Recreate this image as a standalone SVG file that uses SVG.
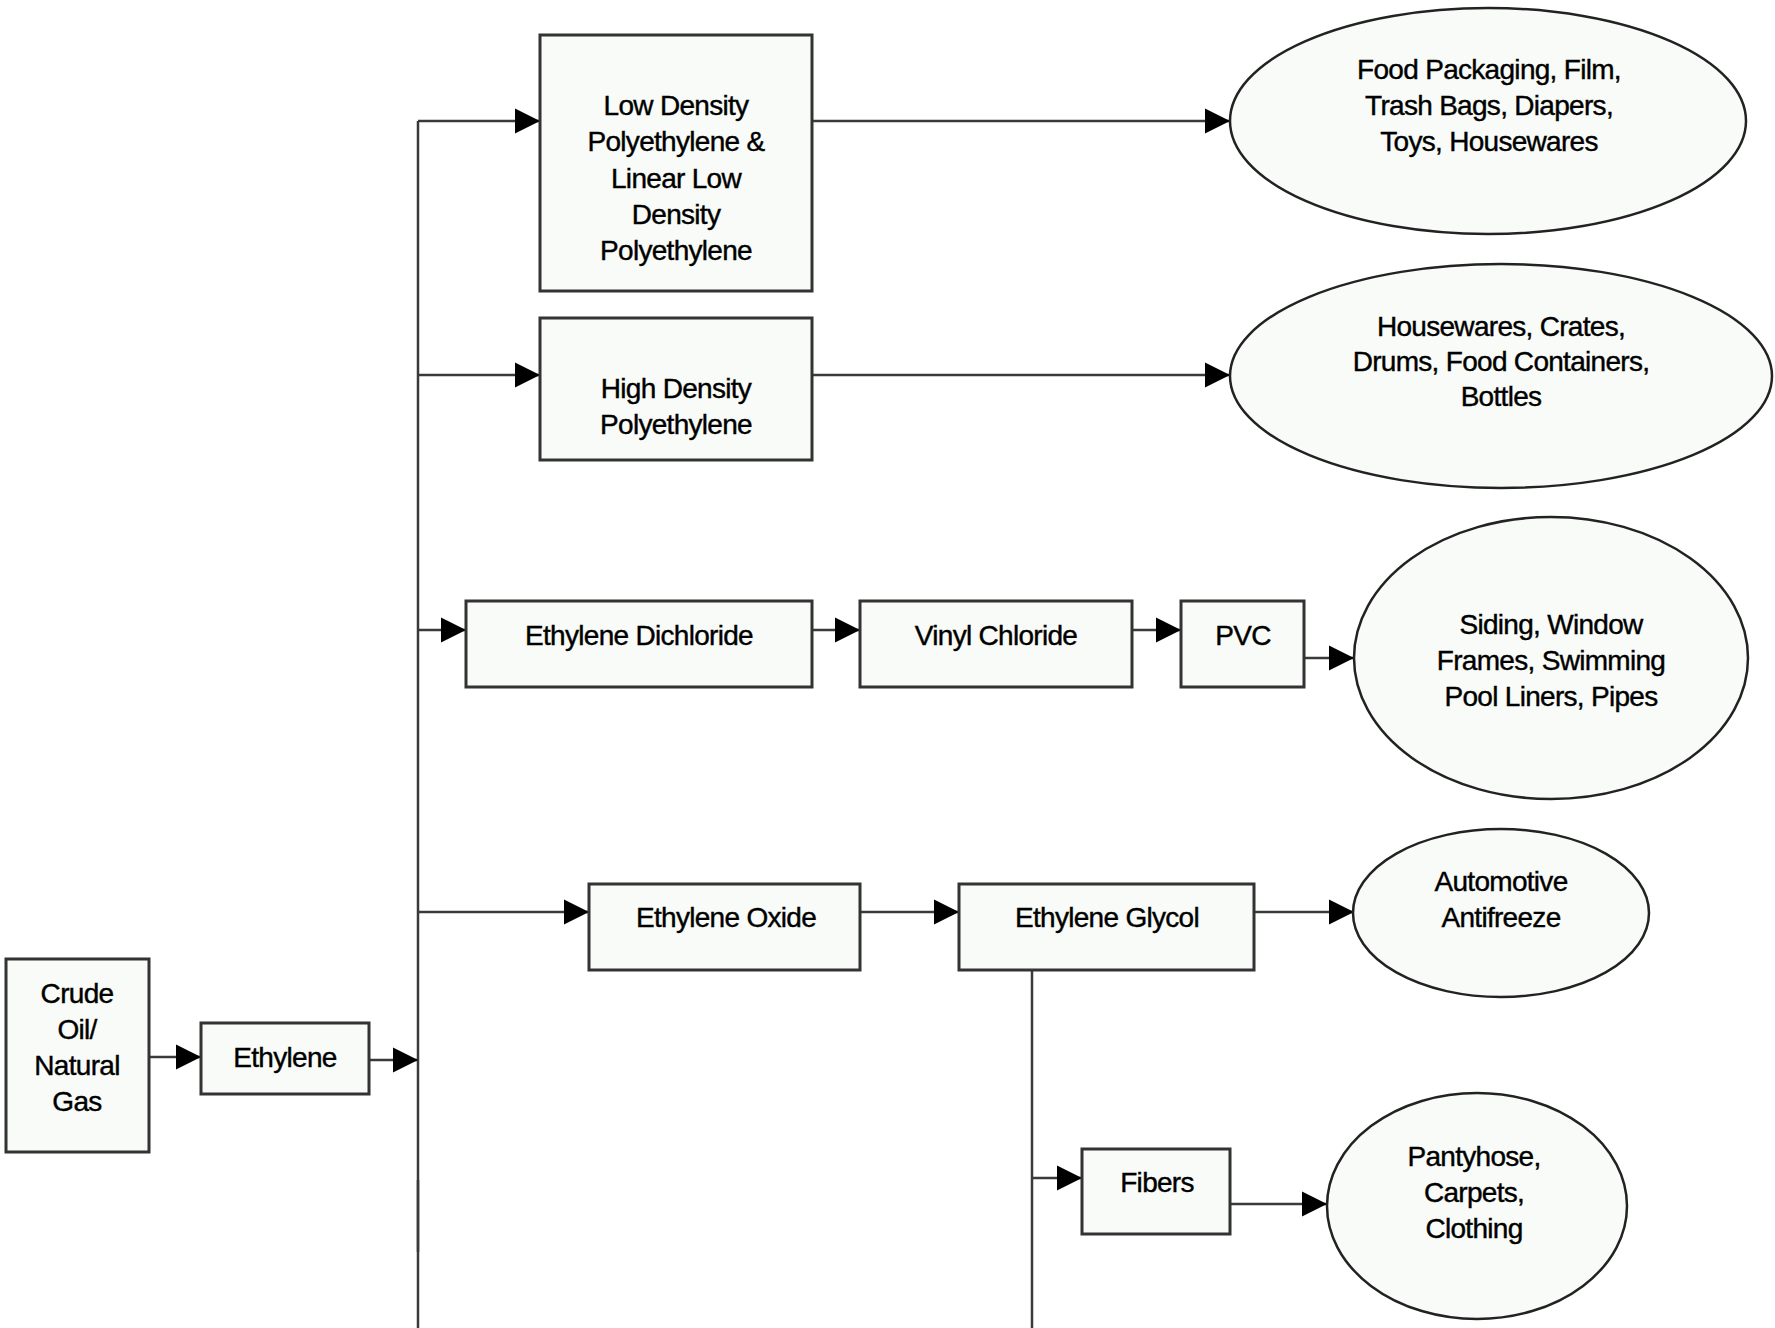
<svg xmlns="http://www.w3.org/2000/svg" width="1775" height="1328" viewBox="0 0 1775 1328">
  <style>
    .box { fill: #f8fbf7; stroke: #333; stroke-width: 3; }
    .oval { fill: #f8fbf7; stroke: #222; stroke-width: 2.5; }
    .lbl { font-family: "Liberation Sans", Arial, sans-serif; font-size: 28px; fill: #000; stroke: #000; stroke-width: 0.4; text-anchor: middle; letter-spacing: -0.7px; }
    .wire { fill: none; stroke: #3a3a3a; stroke-width: 2.5; }
    .arrow { fill: none; stroke: #3a3a3a; stroke-width: 2.5; marker-end: url(#head); }
  </style>
  <defs>
    <marker id="head" viewBox="0 0 10 10" refX="10" refY="5" markerUnits="userSpaceOnUse" markerWidth="25" markerHeight="26" orient="auto">
      <path d="M0,0 L10,5 L0,10 z" fill="#000"/>
    </marker>
  </defs>
  <rect width="1775" height="1328" fill="#fff"/>

  <!-- connectors -->
  <g id="connectors">
    <path class="wire" d="M418,121 V1328"/>
    <path class="wire" d="M418,1180 V1252" stroke="#111" stroke-width="3.5"/>
    <path class="wire" d="M1032,970 V1328"/>
    <path class="arrow" d="M149,1057 H201"/>
    <path class="arrow" d="M369,1060 H418"/>
    <path class="arrow" d="M418,121 H540"/>
    <path class="arrow" d="M418,375 H540"/>
    <path class="arrow" d="M418,630 H466"/>
    <path class="arrow" d="M418,912 H589"/>
    <path class="arrow" d="M812,121 H1230"/>
    <path class="arrow" d="M812,375 H1230"/>
    <path class="arrow" d="M812,630 H860"/>
    <path class="arrow" d="M1132,630 H1181"/>
    <path class="arrow" d="M1304,658 H1354"/>
    <path class="arrow" d="M860,912 H959"/>
    <path class="arrow" d="M1254,912 H1354"/>
    <path class="arrow" d="M1032,1178 H1082"/>
    <path class="arrow" d="M1230,1204 H1327"/>
  </g>

  <!-- process nodes -->
  <g id="crude">
    <rect class="box" x="6" y="959" width="143" height="193"/>
    <text class="lbl" x="77"><tspan x="77" y="1003">Crude</tspan><tspan x="77" y="1039">Oil/</tspan><tspan x="77" y="1075">Natural</tspan><tspan x="77" y="1111">Gas</tspan></text>
  </g>
  <g id="ethylene">
    <rect class="box" x="201" y="1023" width="168" height="71"/>
    <text class="lbl" x="285" y="1067">Ethylene</text>
  </g>
  <g id="ldpe">
    <rect class="box" x="540" y="35" width="272" height="256"/>
    <text class="lbl"><tspan x="676" y="115">Low Density</tspan><tspan x="676" y="151">Polyethylene &amp;</tspan><tspan x="676" y="188">Linear Low</tspan><tspan x="676" y="224">Density</tspan><tspan x="676" y="260">Polyethylene</tspan></text>
  </g>
  <g id="hdpe">
    <rect class="box" x="540" y="318" width="272" height="142"/>
    <text class="lbl"><tspan x="676" y="398">High Density</tspan><tspan x="676" y="434">Polyethylene</tspan></text>
  </g>
  <g id="edc">
    <rect class="box" x="466" y="601" width="346" height="86"/>
    <text class="lbl" x="639" y="645">Ethylene Dichloride</text>
  </g>
  <g id="vinyl-chloride">
    <rect class="box" x="860" y="601" width="272" height="86"/>
    <text class="lbl" x="996" y="645">Vinyl Chloride</text>
  </g>
  <g id="pvc">
    <rect class="box" x="1181" y="601" width="123" height="86"/>
    <text class="lbl" x="1243" y="645">PVC</text>
  </g>
  <g id="ethylene-oxide">
    <rect class="box" x="589" y="884" width="271" height="86"/>
    <text class="lbl" x="726" y="927">Ethylene Oxide</text>
  </g>
  <g id="ethylene-glycol">
    <rect class="box" x="959" y="884" width="295" height="86"/>
    <text class="lbl" x="1107" y="927">Ethylene Glycol</text>
  </g>
  <g id="fibers">
    <rect class="box" x="1082" y="1149" width="148" height="85"/>
    <text class="lbl" x="1157" y="1192">Fibers</text>
  </g>

  <!-- end-use nodes -->
  <g id="use-ldpe">
    <ellipse class="oval" cx="1488" cy="121" rx="258" ry="113"/>
    <text class="lbl"><tspan x="1489" y="79">Food Packaging, Film,</tspan><tspan x="1489" y="115">Trash Bags, Diapers,</tspan><tspan x="1489" y="151">Toys, Housewares</tspan></text>
  </g>
  <g id="use-hdpe">
    <ellipse class="oval" cx="1501" cy="376" rx="271" ry="112"/>
    <text class="lbl"><tspan x="1501" y="336">Housewares, Crates,</tspan><tspan x="1501" y="371">Drums, Food Containers,</tspan><tspan x="1501" y="406">Bottles</tspan></text>
  </g>
  <g id="use-pvc">
    <ellipse class="oval" cx="1551" cy="658" rx="197" ry="141"/>
    <text class="lbl"><tspan x="1551" y="634">Siding, Window</tspan><tspan x="1551" y="670">Frames, Swimming</tspan><tspan x="1551" y="706">Pool Liners, Pipes</tspan></text>
  </g>
  <g id="use-glycol">
    <ellipse class="oval" cx="1501" cy="913" rx="148" ry="84"/>
    <text class="lbl"><tspan x="1501" y="891">Automotive</tspan><tspan x="1501" y="927">Antifreeze</tspan></text>
  </g>
  <g id="use-fibers">
    <ellipse class="oval" cx="1477" cy="1206" rx="150" ry="113"/>
    <text class="lbl"><tspan x="1474" y="1166">Pantyhose,</tspan><tspan x="1474" y="1202">Carpets,</tspan><tspan x="1474" y="1238">Clothing</tspan></text>
  </g>
</svg>
